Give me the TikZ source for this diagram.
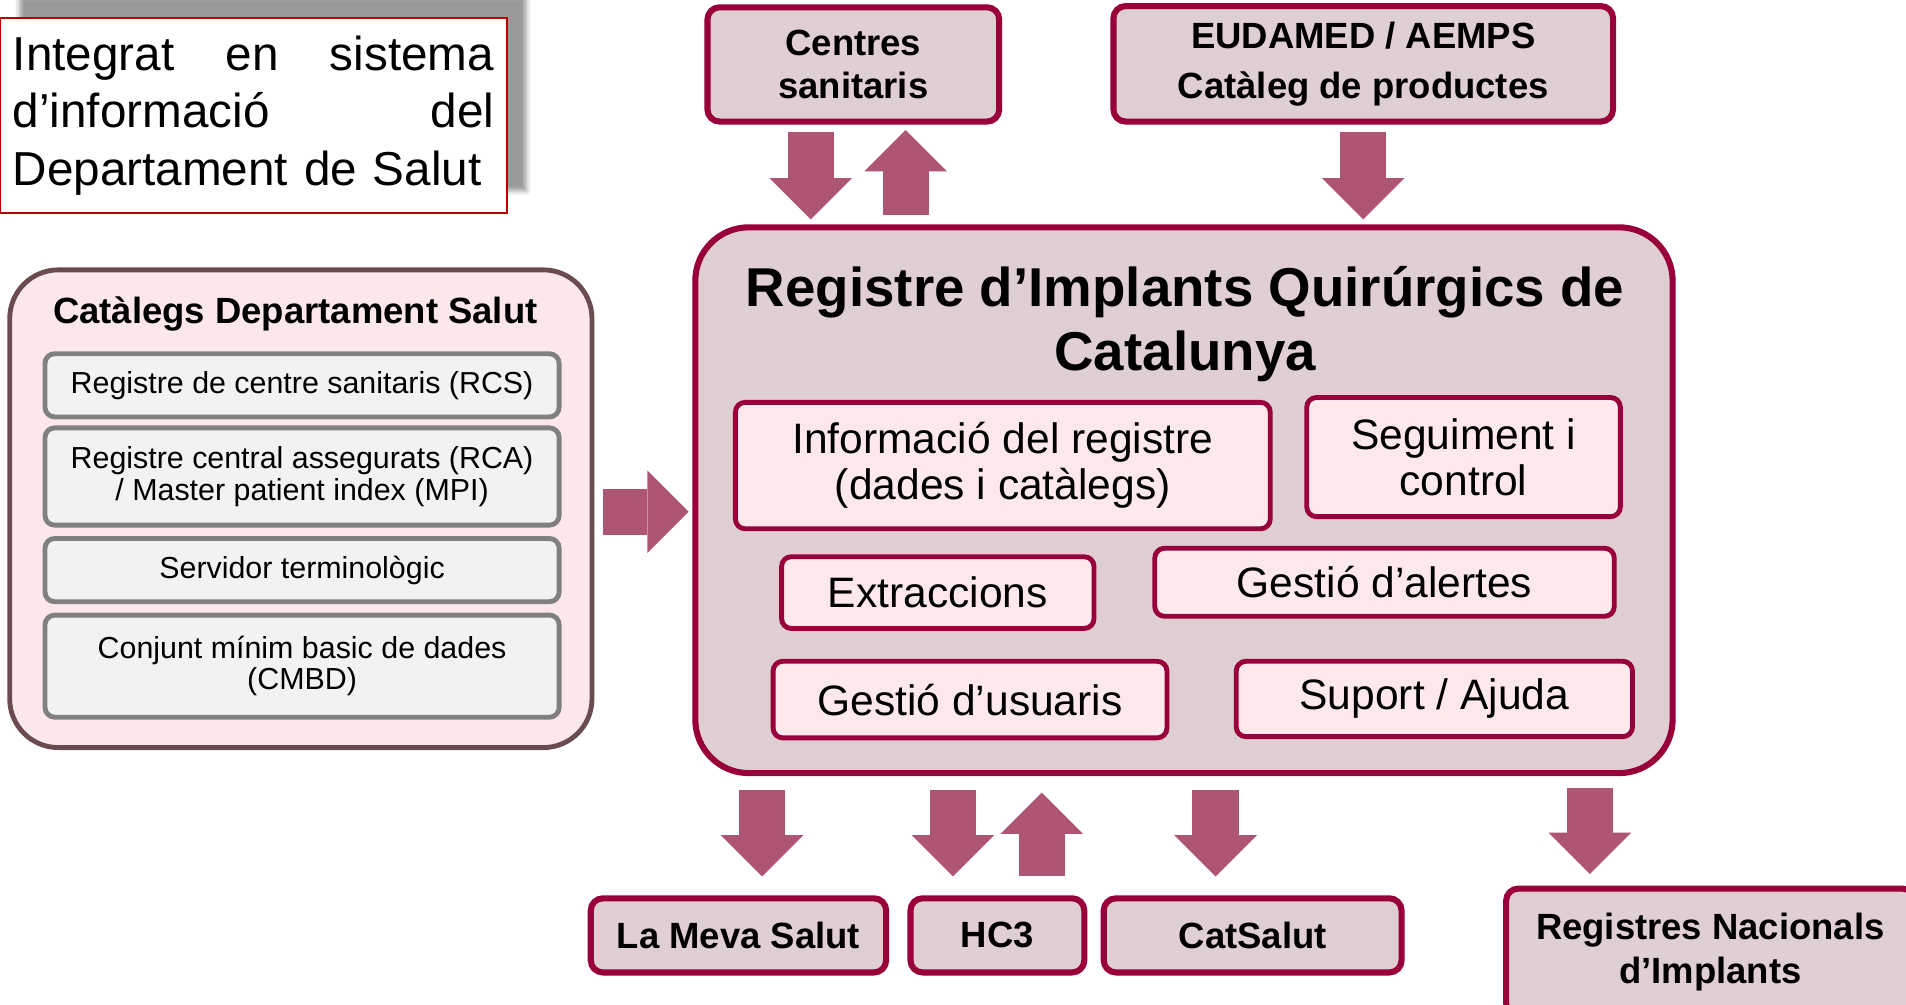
\documentclass[tikz,border=0pt]{standalone}
\usepackage{fontspec}
\setmainfont{Liberation Sans}
\usetikzlibrary{arrows.meta,positioning,shadows.blur}

\definecolor{rqred}{HTML}{99003A}
\definecolor{rqfill}{HTML}{DFCED2}
\definecolor{funcfill}{HTML}{FDE8EC}
\definecolor{catfill}{HTML}{FCE8EB}
\definecolor{catedge}{HTML}{6B4C4E}
\definecolor{itemfill}{HTML}{F2F2F2}
\definecolor{itemedge}{HTML}{808080}
\definecolor{arrowcol}{HTML}{AD5571}
\definecolor{infored}{HTML}{C00000}

\begin{document}
\begin{tikzpicture}[x=0.5pt,y=-0.5pt,
  infobox/.style={draw=infored,line width=0.8pt,fill=white,minimum width=208.5pt,minimum height=80pt,
    text width=198pt,align=left,inner sep=0pt,font=\fontsize{19.6}{23.75}\selectfont},
  catbox/.style={draw=catedge,line width=2pt,fill=catfill,rounded corners=20pt,
    minimum width=239.5pt,minimum height=196.5pt},
  catitem/.style={draw=itemedge,line width=2pt,fill=itemfill,rounded corners=4pt,
    minimum width=211.5pt,align=center,inner sep=0pt,font=\fontsize{12.5}{13}\selectfont},
  extbox/.style={draw=rqred,line width=2.5pt,fill=rqfill,rounded corners=5pt,
    align=center,inner sep=0pt,font=\fontsize{15}{18}\selectfont\bfseries},
  regbox/.style={draw=rqred,line width=2.5pt,fill=rqfill,rounded corners=22pt,
    minimum width=402pt,minimum height=224.5pt},
  funcbox/.style={draw=rqred,line width=2pt,fill=funcfill,rounded corners=4pt,
    align=center,inner sep=0pt,font=\fontsize{17.5}{19}\selectfont},
  fatarrow/.style={draw=arrowcol,line width=19pt,-{Triangle[width=34pt,length=17pt,line width=0pt]}}
]
\useasboundingbox (0,0) rectangle (1568,826);
\clip (0,0) rectangle (1568,826);

% left side
\node[infobox,blur shadow={shadow xshift=8pt,shadow yshift=9pt,shadow blur radius=2pt}] (info) at (208.5,95)
  {Integrat\hfill en\hfill sistema\\ d’informació\hfill del\\ Departament de Salut};

\node[catbox] (cat) at (247.5,418.5) {};
\node[font=\fontsize{15}{18}\selectfont\bfseries] (cattitle) at (243,258) {Catàlegs Departament Salut};
\node[catitem,minimum height=26pt] (rcs) at (248.5,317) {Registre de centre sanitaris (RCS)};
\node[catitem,minimum height=40pt,below=2.5pt of rcs] (rca) {Registre central assegurats (RCA)\\ / Master patient index (MPI)};
\node[catitem,minimum height=26pt,below=3.5pt of rca] (srv) {Servidor terminològic};
\node[catitem,minimum height=42pt,below=3.5pt of srv] (cmbd) {Conjunt mínim basic de dades\\ (CMBD)};

% register
\node[regbox] (rq) at (974,411.5) {};
\node[font=\fontsize{22.5}{26.5}\selectfont\bfseries,align=center] (rqtitle) at (975,266.5)
  {Registre d’Implants Quirúrgics de\\ Catalunya};
\node[funcbox,minimum width=220pt,minimum height=52pt] (dades) at (825,383) {Informació del registre\\ (dades i catàlegs)};
\node[funcbox,minimum width=129pt,minimum height=49pt] (seg) at (1204,376) {Seguiment i\\ control};
\node[funcbox,minimum width=128.5pt,minimum height=29.5pt] (extr) at (771.5,487.5) {Extraccions};
\node[funcbox,minimum width=189pt,minimum height=28pt] (alert) at (1139,479) {Gestió d’alertes};
\node[funcbox,minimum width=162pt,minimum height=31.5pt] (usr) at (798,575.5) {Gestió d’usuaris};
\node[funcbox,minimum width=163pt,minimum height=31pt] (help) at (1180,575) {Suport / Ajuda};

% external systems
\node[extbox,minimum width=120pt,minimum height=47pt] (cs) at (702,53) {Centres\\ sanitaris};
\node[extbox,minimum width=205.5pt,minimum height=47.5pt,font=\fontsize{15}{20.5}\selectfont\bfseries] (eu) at (1121.5,52.5)
  {EUDAMED / AEMPS\\ Catàleg de productes};
\node[extbox,minimum width=121.5pt,minimum height=30.5pt] (lms) at (607.5,769.5) {La Meva Salut};
\node[extbox,minimum width=71.5pt,minimum height=30.5pt] (hc3) at (820.5,769.5) {HC3};
\node[extbox,minimum width=122.5pt,minimum height=30.5pt] (cats) at (1030.5,769.5) {CatSalut};
\node[extbox,minimum width=168pt,minimum height=52pt] (rni) at (1407,783) {Registres Nacionals\\ d’Implants};

% arrows
\draw[fatarrow,shorten <=3.5pt,shorten >=1.5pt] ([yshift=-1.25pt]cat.east) -- ([yshift=-1.25pt]cat.east -| rq.west);
\draw[fatarrow,shorten <=3pt,shorten >=2pt] ([xshift=-17.5pt]cs.south) -- ([xshift=-17.5pt]cs.south |- rq.north);
\draw[fatarrow,shorten <=3.75pt,shorten >=2.25pt] ([xshift=21.5pt]cs.south |- rq.north) -- ([xshift=21.5pt]cs.south);
\draw[fatarrow,shorten <=3pt,shorten >=2pt] (eu.south) -- (eu.south |- rq.north);
\draw[fatarrow,shorten <=5.75pt,shorten >=7.75pt] ([xshift=9.75pt]lms.north |- rq.south) -- ([xshift=9.75pt]lms.north);
\draw[fatarrow,shorten <=5.75pt,shorten >=7.75pt] ([xshift=-18.25pt]hc3.north |- rq.south) -- ([xshift=-18.25pt]hc3.north);
\draw[fatarrow,shorten <=7.75pt,shorten >=6.75pt] ([xshift=18.25pt]hc3.north) -- ([xshift=18.25pt]hc3.north |- rq.south);
\draw[fatarrow,shorten <=5.75pt,shorten >=7.75pt] ([xshift=-15.25pt]cats.north |- rq.south) -- ([xshift=-15.25pt]cats.north);
\draw[fatarrow,shorten <=4.75pt,shorten >=4.75pt] ([xshift=-49.5pt]rni.north |- rq.south) -- ([xshift=-49.5pt]rni.north);
\end{tikzpicture}
\end{document}
